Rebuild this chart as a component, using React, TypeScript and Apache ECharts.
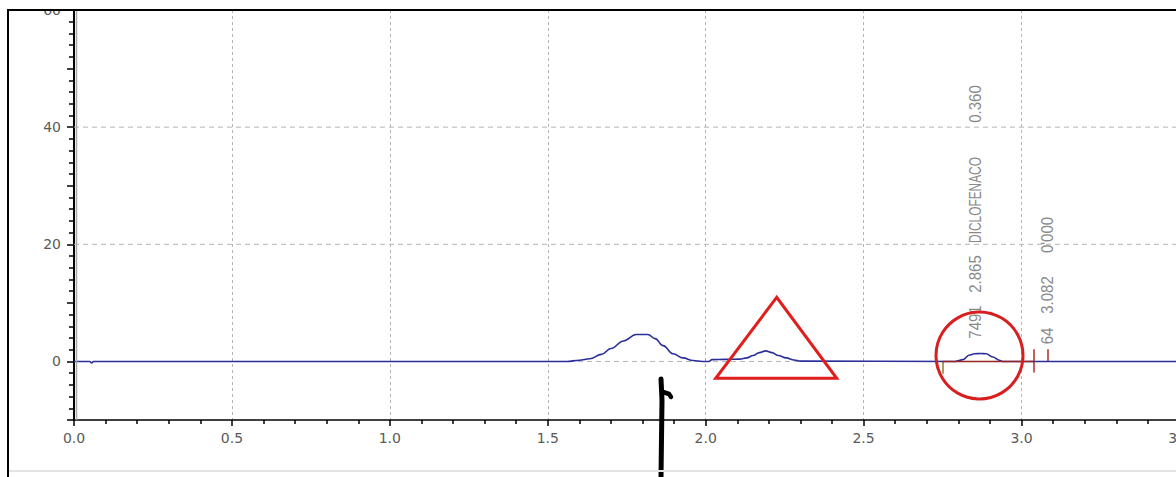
import React, { useEffect, useRef } from "react";
import * as echarts from "echarts";

// Chromatogram trace (retention time in min, signal)
const retentionTimes = [
  0, 0.05, 0.056, 0.062, 0.07,
  1.56, 1.6, 1.633, 1.67, 1.7, 1.74, 1.78, 1.817, 1.84, 1.865, 1.897, 1.928, 1.96, 1.99,
  2.01, 2.02, 2.06, 2.108, 2.13, 2.15, 2.17, 2.19, 2.21, 2.23, 2.255, 2.28, 2.3,
  2.79, 2.815, 2.835, 2.851, 2.87, 2.888, 2.909, 2.93, 2.94, 3.6,
];
const signal = [
  0, 0, -0.25, 0, 0,
  0, 0.2, 0.45, 1.2, 2.2, 3.5, 4.6, 4.6, 3.9, 2.7, 1.3, 0.6, 0.15, 0,
  0, 0.3, 0.35, 0.4, 0.6, 1.0, 1.5, 1.8, 1.5, 1.0, 0.6, 0.25, 0.05,
  0, 0.3, 1.1, 1.3, 1.35, 1.3, 0.75, 0.2, 0, 0,
];

// horizontal dashed grid levels and the x span they cover
const yGridValues = [0, 20, 40, 60];
const xSpan = [0, 3.6];

// integration baseline of the DICLOFENACO peak
const baselineTimes = [2.75, 3.04];
const baselineValues = [0, 0];

// peak start / end markers
const markerTimes = [2.75, 3.039, 3.082];
const markerTop = [0, 2.1, 2.1];
const markerBottom = [-2.1, -1.9, 0];

// peak annotation texts
const peak1Labels = ["7491", "2.865", "DICLOFENACO", "0.360"];
const peak2Labels = ["64", "3.082", "0'000"];

export default function App() {
  const ref = useRef<HTMLDivElement>(null);

  useEffect(() => {
    if (!ref.current) return;
    const chart = echarts.init(ref.current, undefined, { renderer: "svg" });

    const trace = retentionTimes.map((t, i) => [t, signal[i]]);
    const baseline = baselineTimes.map((t, i) => [t, baselineValues[i]]);
    const markerColors = ["#8a7d2a", "#b02a2a", "#b02a2a"];
    const markerData = markerTimes.map((t, i) => [
      { coord: [t, markerTop[i]], lineStyle: { color: markerColors[i], width: 1.5, type: "solid" } },
      { coord: [t, markerBottom[i]] },
    ]);

    const labelFont = "DejaVu Sans, sans-serif";
    const tickStyle = { color: "#000", width: 1.5 };

    const annText = (text: string, x: number, y: number) => ({
      type: "text",
      x,
      y,
      rotation: Math.PI / 2,
      scaleX: /^[0-9.']+$/.test(text) ? 0.88 : 0.7,
      z: 50,
      style: {
        text,
        fill: "#8a8a8a",
        font: '17px "Liberation Sans", Arial, sans-serif',
        textAlign: "center",
        textVerticalAlign: "middle",
        align: "center",
        verticalAlign: "middle",
      },
    });

    const peak1Y = [322, 274, 200, 104];
    const peak2Y = [336, 295, 235];

    const gridSeries = yGridValues.map((v) => ({
      type: "line",
      data: xSpan.map((x) => [x, v]),
      z: 1,
      silent: true,
      showSymbol: false,
      symbol: "none",
      lineStyle: { color: "#b4b4b4", type: [5, 4], width: 1 },
    }));

    const option: any = {
      animation: false,
      backgroundColor: "#ffffff",
      grid: { left: 74, top: 10, width: 1137, height: 410 },
      xAxis: {
        type: "value",
        min: 0,
        max: 3.6,
        interval: 0.5,
        axisLine: { onZero: false, lineStyle: { color: "#000", width: 1.5 } },
        axisTick: { show: true, length: 6, lineStyle: tickStyle },
        minorTick: { show: true, splitNumber: 5, length: 4, lineStyle: tickStyle },
        axisLabel: {
          margin: 11,
          color: "#5a5a5a",
          fontSize: 14,
          fontFamily: labelFont,
          showMaxLabel: false,
          formatter: (v: number) => v.toFixed(1),
        },
        splitLine: { show: true, lineStyle: { color: "#b4b4b4", type: [3, 3], width: 1 } },
      },
      yAxis: {
        type: "value",
        min: -10,
        max: 60,
        interval: 10,
        axisLine: { show: true, lineStyle: { color: "#000", width: 2 } },
        axisTick: { show: true, length: 7, lineStyle: tickStyle },
        minorTick: { show: true, splitNumber: 5, length: 5, lineStyle: tickStyle },
        axisLabel: {
          margin: 13,
          color: "#5a5a5a",
          fontSize: 14,
          fontFamily: labelFont,
          formatter: (v: number) => (v >= 0 && v % 20 === 0 ? String(v) : ""),
        },
        splitLine: { show: false },
      },
      series: [
        ...gridSeries,
        {
          type: "line",
          data: trace,
          z: 5,
          showSymbol: false,
          symbol: "none",
          smooth: 0.4,
          smoothMonotone: "x",
          lineStyle: { color: "#2a2f9a", width: 1.6 },
          markLine: {
            silent: true,
            symbol: ["none", "none"],
            label: { show: false },
            data: markerData,
          },
        },
        {
          type: "line",
          data: baseline,
          z: 6,
          showSymbol: false,
          symbol: "none",
          lineStyle: { color: "#9a2424", width: 1.5 },
        },
      ],
      graphic: [
        // window frame
        { type: "rect", z: 100, shape: { x: 0, y: 0, width: 1240, height: 9 }, style: { fill: "#fff" } },
        { type: "line", z: 101, shape: { x1: 7, y1: 10, x2: 1240, y2: 10 }, style: { stroke: "#000", lineWidth: 2 } },
        { type: "line", z: 101, shape: { x1: 8, y1: 10, x2: 8, y2: 477 }, style: { stroke: "#000", lineWidth: 2 } },
        { type: "line", z: 101, shape: { x1: 9, y1: 471, x2: 1240, y2: 471 }, style: { stroke: "#e4e4e4", lineWidth: 2 } },
        { type: "line", z: 60, shape: { x1: 76.5, y1: 10, x2: 76.5, y2: 420 }, style: { stroke: "#aaaaaa", lineWidth: 1.5 } },
        // peak annotations
        ...peak1Labels.map((t, i) => annText(t, 975, peak1Y[i])),
        ...peak2Labels.map((t, i) => annText(t, 1047, peak2Y[i])),
        // hand-drawn marks
        {
          type: "polygon",
          z: 80,
          shape: { points: [[776.7, 297.3], [715.7, 378.3], [836.7, 378.3]] },
          style: { fill: "none", stroke: "#e01e1e", lineWidth: 3, lineJoin: "miter" },
        },
        {
          type: "circle",
          z: 80,
          shape: { cx: 979.5, cy: 355.5, r: 43.5 },
          style: { fill: "none", stroke: "#d81e1e", lineWidth: 3 },
        },
        {
          type: "polyline",
          z: 80,
          shape: { points: [[661, 379], [662, 400], [661, 477]] },
          style: { stroke: "#000", lineWidth: 5, lineCap: "round", fill: "none" },
        },
        {
          type: "polyline",
          z: 80,
          shape: { points: [[663, 392], [669, 394], [671, 397]] },
          style: { stroke: "#000", lineWidth: 4.5, lineCap: "round", lineJoin: "round", fill: "none" },
        },
      ],
    };

    chart.setOption(option);
    return () => chart.dispose();
  }, []);

  return (
    <div
      style={{
        position: "fixed",
        left: 0,
        top: 0,
        width: 1176,
        height: 477,
        overflow: "hidden",
        background: "#fff",
      }}
    >
      <div ref={ref} style={{ width: 1240, height: 477 }} />
    </div>
  );
}
